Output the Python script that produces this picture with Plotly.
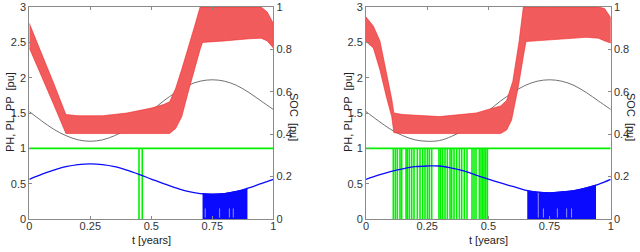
import plotly.graph_objects as go

# ---------------- data ----------------
t_grid = [0, 0.05, 0.10, 0.15, 0.20, 0.25, 0.30, 0.35, 0.40, 0.45, 0.50,
          0.55, 0.60, 0.65, 0.70, 0.75, 0.80, 0.85, 0.90, 0.95, 1.0]

# grey curve (PL) [pu], left axis
pl_left = [1.52, 1.39, 1.27, 1.18, 1.12, 1.10, 1.12, 1.18, 1.27, 1.40, 1.53,
           1.67, 1.79, 1.89, 1.95, 1.97, 1.95, 1.89, 1.79, 1.67, 1.55]
pl_right = [1.52, 1.39, 1.27, 1.18, 1.12, 1.10, 1.11, 1.17, 1.26, 1.39, 1.53,
            1.67, 1.79, 1.89, 1.95, 1.97, 1.95, 1.89, 1.79, 1.67, 1.55]

# blue curve (PP) [pu], left axis
pp_left = [0.56, 0.63, 0.69, 0.74, 0.77, 0.78, 0.77, 0.74, 0.69, 0.63, 0.565,
           0.50, 0.44, 0.39, 0.36, 0.35, 0.36, 0.39, 0.44, 0.50, 0.56]
pp_right = [0.56, 0.62, 0.67, 0.71, 0.74, 0.75, 0.75, 0.72, 0.68, 0.62, 0.565,
            0.51, 0.46, 0.41, 0.38, 0.37, 0.38, 0.40, 0.44, 0.49, 0.56]

# dense switching region of PP (filled down to 0)
ppd_t_left = [0.71, 0.75, 0.80, 0.85, 0.894]
ppd_v_left = [0.36, 0.35, 0.36, 0.39, 0.42]
ppd_t_right = [0.659, 0.70, 0.75, 0.80, 0.85, 0.90, 0.94]
ppd_v_right = [0.40, 0.38, 0.37, 0.38, 0.40, 0.44, 0.48]

# light gaps inside the dense PP region
gap_t_left = [0.721, 0.78, 0.82, 0.836]
gap_h_left = [0.15, 0.15, 0.15, 0.15]
gap_t_right = [0.704, 0.725, 0.782, 0.82, 0.84]
gap_h_right = [0.38, 0.15, 0.15, 0.15, 0.15]

# PH (green) level and the instants where it drops to 0
ph_level = 1.0
ph_drops_left = [0.4496, 0.463]
ph_drops_right = [0.1117, 0.1199, 0.1281, 0.1389, 0.1458, 0.1635, 0.1689, 0.1771,
                  0.1866, 0.1961, 0.2098, 0.2207, 0.2316, 0.2411, 0.2507, 0.2588,
                  0.2684, 0.2983, 0.3052, 0.3134, 0.3229, 0.3324, 0.3433, 0.3501,
                  0.3597, 0.3706, 0.3815, 0.3910, 0.4019, 0.4128, 0.4332, 0.4414,
                  0.4496, 0.4632, 0.4700, 0.4768, 0.4823, 0.4891, 0.4959]

# SOC band envelopes [pu], right axis
soc_up_t_left = [0, 0.05, 0.10, 0.15, 0.20, 0.30, 0.40, 0.50, 0.55, 0.575, 0.60,
                 0.625, 0.65, 0.675, 0.70, 0.95, 0.975, 1.0]
soc_up_left = [0.923, 0.783, 0.640, 0.493, 0.487, 0.487, 0.500, 0.523, 0.540, 0.553,
               0.617, 0.707, 0.800, 0.900, 1.0, 1.0, 0.977, 0.923]
soc_lo_t_left = [0, 0.05, 0.10, 0.15, 0.20, 0.30, 0.40, 0.50, 0.575, 0.60, 0.625,
                 0.65, 0.675, 0.70, 0.71, 0.80, 0.90, 0.95, 0.975, 1.0]
soc_lo_left = [0.807, 0.673, 0.540, 0.403, 0.403, 0.403, 0.403, 0.403, 0.403, 0.427,
               0.483, 0.593, 0.700, 0.800, 0.833, 0.840, 0.850, 0.853, 0.840, 0.807]

soc_up_t_right = [0, 0.03, 0.057, 0.084, 0.105, 0.114, 0.15, 0.30, 0.45, 0.50, 0.55,
                  0.575, 0.60, 0.625, 0.643, 0.95, 0.975, 1.0]
soc_up_right = [0.953, 0.910, 0.840, 0.693, 0.567, 0.500, 0.493, 0.483, 0.500, 0.517,
                0.533, 0.560, 0.650, 0.833, 1.0, 1.0, 0.993, 0.950]
soc_lo_t_right = [0, 0.03, 0.057, 0.084, 0.105, 0.114, 0.15, 0.30, 0.45, 0.55, 0.575,
                  0.595, 0.623, 0.643, 0.654, 0.75, 0.90, 0.95, 0.975, 1.0]
soc_lo_right = [0.837, 0.807, 0.703, 0.573, 0.483, 0.407, 0.403, 0.403, 0.403, 0.403,
                0.420, 0.467, 0.627, 0.767, 0.837, 0.843, 0.857, 0.853, 0.840, 0.830]

x_ticks = [0, 0.25, 0.5, 0.75, 1]
x_ticklabels = ["0", "0.25", "0.5", "0.75", "1"]
yl_ticks = [0, 0.5, 1, 1.5, 2, 2.5, 3]
yl_ticklabels = ["0", "0.5", "1", "1.5", "2", "2.5", "3"]
yr_ticks = [0, 0.2, 0.4, 0.6, 0.8, 1]
yr_ticklabels = ["0", "0.2", "0.4", "0.6", "0.8", "1"]

x_title = "t [years]"
yl_title = "PH, PL, PP  [pu]"
yr_title = "SOC  [pu]"

# ---------------- figure ----------------
W, H = 640, 252
FONT = "Liberation Sans, Arial, sans-serif"
AX = "#8a8a8a"
RED = "#f02828"
BLUE = "#0a0aff"
GREEN = "#00f000"

fig = go.Figure()


def add_panel(xa, ya, ya2, up_t, up, lo_t, lo, pl, pp, dt, dv, gt, gh, drops):
    # SOC band
    fig.add_trace(go.Scatter(
        x=list(up_t) + list(reversed(lo_t)), y=list(up) + list(reversed(lo)),
        fill="toself", mode="lines", line=dict(color=RED, width=0.6),
        fillcolor="#f04848",
        fillpattern=dict(shape="|", fgcolor="#e81414", bgcolor="#f77a7a",
                         size=2, solidity=0.6),
        xaxis=xa, yaxis=ya2, hoverinfo="skip", showlegend=False))
    # PL grey
    fig.add_trace(go.Scatter(x=t_grid, y=pl, mode="lines", line=dict(color="#606060", width=0.9),
                             line_shape="spline", xaxis=xa, yaxis=ya, showlegend=False))
    # PH green
    gx, gy = [0, 1, None], [ph_level, ph_level, None]
    for d in drops:
        gx += [d, d, None]
        gy += [ph_level, 0, None]
    fig.add_trace(go.Scatter(x=gx, y=gy, mode="lines", line=dict(color=GREEN, width=1.6),
                             xaxis=xa, yaxis=ya, showlegend=False))
    # PP dense region
    fig.add_trace(go.Scatter(x=dt, y=dv, mode="lines", fill="tozeroy",
                             fillcolor=BLUE, line=dict(color=BLUE, width=1),
                             xaxis=xa, yaxis=ya, showlegend=False))
    # light gaps
    bx, by = [], []
    for g, h in zip(gt, gh):
        bx += [g, g, None]
        by += [0.02, h, None]
    fig.add_trace(go.Scatter(x=bx, y=by, mode="lines", line=dict(color="#9090ff", width=1),
                             xaxis=xa, yaxis=ya, showlegend=False))
    # PP blue
    fig.add_trace(go.Scatter(x=t_grid, y=pp, mode="lines", line=dict(color=BLUE, width=1.3),
                             line_shape="spline", xaxis=xa, yaxis=ya, showlegend=False))


add_panel("x", "y", "y2", soc_up_t_left, soc_up_left, soc_lo_t_left, soc_lo_left,
          pl_left, pp_left, ppd_t_left, ppd_v_left, gap_t_left, gap_h_left, ph_drops_left)
add_panel("x2", "y3", "y4", soc_up_t_right, soc_up_right, soc_lo_t_right, soc_lo_right,
          pl_right, pp_right, ppd_t_right, ppd_v_right, gap_t_right, gap_h_right, ph_drops_right)

tickfont = dict(family=FONT, size=11, color="#333333")
y_dom = [(252 - 219) / H, (252 - 7) / H]
xd1 = [29.3 / W, 273.3 / W]
xd2 = [366 / W, 610.7 / W]

xcommon = dict(range=[0, 1], tickvals=x_ticks, ticktext=x_ticklabels, ticks="inside",
               ticklen=3, tickcolor=AX, showline=True, linecolor=AX, linewidth=1,
               mirror="ticks", showgrid=False, zeroline=False, tickfont=tickfont,
               automargin=False, ticklabelstandoff=-3)
ylcommon = dict(range=[0, 3], tickvals=yl_ticks, ticktext=yl_ticklabels, ticks="inside",
                ticklen=3, tickcolor=AX, showline=True, linecolor=AX, linewidth=1,
                showgrid=False, zeroline=False, tickfont=tickfont, domain=y_dom,
                automargin=False)
yrcommon = dict(range=[0, 1], tickvals=yr_ticks, ticktext=yr_ticklabels, ticks="inside",
                ticklen=3, tickcolor=AX, showline=True, linecolor=AX, linewidth=1,
                showgrid=False, zeroline=False, tickfont=tickfont, side="right",
                automargin=False)

fig.update_layout(
    width=W, height=H, margin=dict(l=0, r=0, t=0, b=0, autoexpand=False),
    paper_bgcolor="white", plot_bgcolor="white", showlegend=False,
    xaxis=dict(domain=xd1, anchor="y", **xcommon),
    xaxis2=dict(domain=xd2, anchor="y3", **xcommon),
    yaxis=dict(anchor="x", **ylcommon),
    yaxis2=dict(anchor="x", overlaying="y", **yrcommon),
    yaxis3=dict(anchor="x2", **ylcommon),
    yaxis4=dict(anchor="x2", overlaying="y3", **yrcommon),
)

afont = dict(family=FONT, size=11, color="#222222")
for xd, xl, xr in [(xd1, 10 / W, 294 / W), (xd2, 348 / W, 631 / W)]:
    fig.add_annotation(text=x_title, x=(xd[0] + xd[1]) / 2, y=(252 - 240) / H,
                       xref="paper", yref="paper", showarrow=False, font=afont,
                       xanchor="center", yanchor="middle")
    fig.add_annotation(text=yl_title, x=xl, y=(252 - 112) / H, xref="paper", yref="paper",
                       showarrow=False, textangle=-90, font=afont,
                       xanchor="center", yanchor="middle")
    fig.add_annotation(text=yr_title, x=xr, y=(252 - 117) / H, xref="paper", yref="paper",
                       showarrow=False, textangle=90, font=afont,
                       xanchor="center", yanchor="middle")

fig.write_html("out.html", config={"displayModeBar": False},
               post_script="document.body.style.margin='0';"
                           "document.body.style.padding='0';")
